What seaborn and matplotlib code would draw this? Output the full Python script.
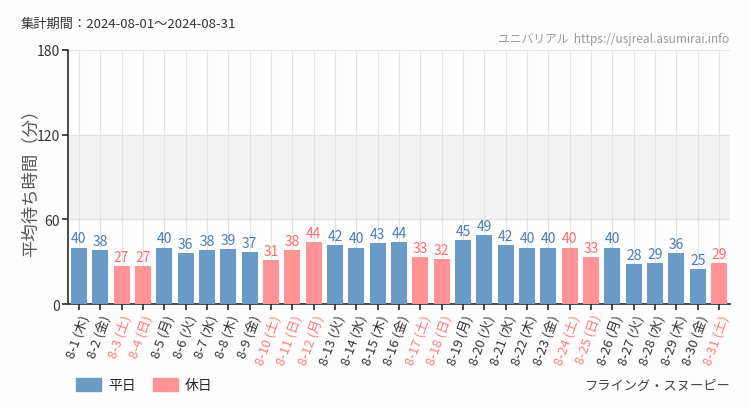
import matplotlib
matplotlib.use("Agg")
import matplotlib.pyplot as plt
import seaborn as sns
import pandas as pd
from matplotlib.patches import Patch

sns.set_theme(style="white")
plt.rcParams['font.family'] = ['Noto Sans CJK JP', 'DejaVu Sans']

# === data ===
days = list(range(1, 32))
weekdays = ["木", "金", "土", "日", "月", "火", "水"]
wait_min = [40, 38, 27, 27, 40, 36, 38, 39, 37, 31, 38, 44, 42, 40, 43, 44,
            33, 32, 45, 49, 42, 40, 40, 40, 33, 40, 28, 29, 36, 25, 29]
holidays = [3, 4, 10, 11, 12, 17, 18, 24, 25, 31]

labels = [f"8-{d} ({weekdays[(d - 1) % 7]})" for d in days]
kind = ["休日" if d in holidays else "平日" for d in days]
df = pd.DataFrame({"day": labels, "wait": wait_min, "kind": kind})

bar_colors = {"平日": "#6a9ac6", "休日": "#ff9395"}
text_colors = {"平日": "#4a7db5", "休日": "#ff6b6e"}

fig = plt.figure(figsize=(7.5, 4.1), dpi=100, facecolor="#fcfdfc")
ax = fig.add_axes([0.091, 0.256, 0.882, 0.62])
ax.set_facecolor("#fcfdfc")

ax.axhspan(60, 120, color="#f1f2f1", zorder=0)
sns.barplot(data=df, x="day", y="wait", hue="kind", palette=bar_colors,
            saturation=1, dodge=False, width=0.75, legend=False, ax=ax, zorder=3,
            linewidth=0)

for i, (v, k) in enumerate(zip(wait_min, kind)):
    ax.text(i, v + 1.5, str(v), ha="center", va="bottom", fontsize=10,
            color=text_colors[k], zorder=4)

ax.set_xlim(-0.5, len(days) - 0.5)
ax.set_ylim(0, 180)
ax.set_yticks([0, 60, 120, 180])
ax.set_yticklabels(["0", "60", "120", "180"], fontsize=10, color="#333333")
ax.set_xticks(range(len(days)))
ax.set_xticklabels(labels, rotation=70, ha="right", rotation_mode="anchor", fontsize=9.5)
for t, k in zip(ax.get_xticklabels(), kind):
    t.set_color("#ff7b7e" if k == "休日" else "#333333")
ax.tick_params(axis="both", length=4, color="#333333", direction="out")
ax.tick_params(axis="x", bottom=True, pad=2)
ax.tick_params(axis="y", left=True, pad=2)

for i in range(len(days)):
    ax.axvline(i, color="#e3e3e3", lw=0.8, zorder=1)
for y in [60, 120, 180]:
    ax.axhline(y, color="#e3e3e3", lw=0.8, zorder=1)

for s in ["top", "right"]:
    ax.spines[s].set_visible(False)
ax.spines["left"].set_color("#333333")
ax.spines["bottom"].set_color("#333333")

ax.set_xlabel("")
ax.set_ylabel("")
fig.text(0.04, 0.565, "平均待ち時間（分）", fontsize=12.5, color="#555555",
         rotation=90, ha="center", va="center")

fig.text(0.027, 0.94, "集計期間：2024-08-01～2024-08-31", fontsize=9.5, color="#333333", va="center")
fig.text(0.973, 0.903, "ユニバリアル  https://usjreal.asumirai.info", fontsize=8.5,
         color="#999999", ha="right", va="center")
fig.text(0.973, 0.058, "フライング・スヌーピー", fontsize=9.5, color="#444444", ha="right", va="center")

handles = [Patch(color=bar_colors["平日"], label="平日"), Patch(color=bar_colors["休日"], label="休日")]
fig.legend(handles=handles, loc="center left", bbox_to_anchor=(0.085, 0.058), ncol=2,
           frameon=False, fontsize=10, handlelength=1.8, handleheight=1.0,
           columnspacing=1.2, handletextpad=0.5)

fig.savefig("out.png", dpi=100, facecolor=fig.get_facecolor())
